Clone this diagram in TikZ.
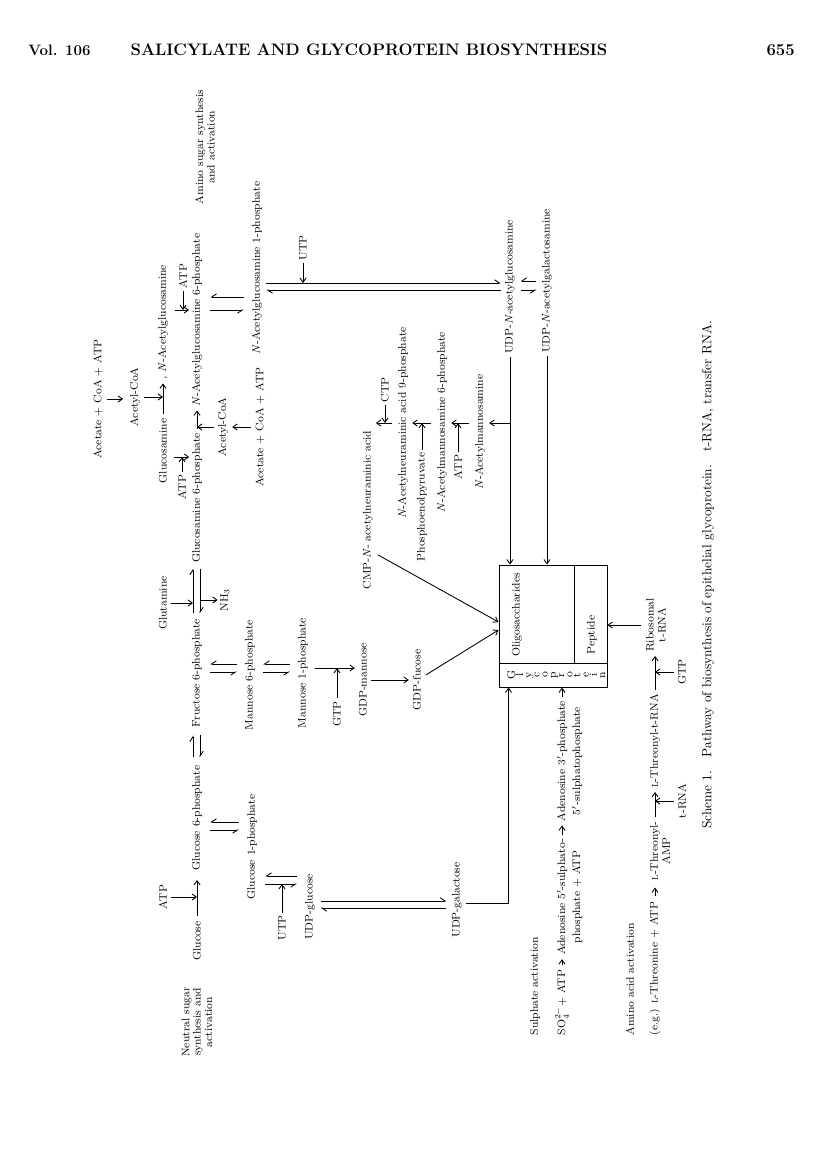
\documentclass[tikz,border=0pt]{standalone}
\usetikzlibrary{arrows.meta,calc}
\newcommand\fs{\fontsize{8.2}{9}\selectfont}
\tikzset{
  lbl/.style={rotate=90, inner sep=1pt, font=\fs, align=center},
  rx/.style={-{Straight Barb[length=3.2pt,width=4.6pt]}, line width=0.65pt},
  eqr/.style={-{Straight Barb[right,length=3.6pt,width=4.8pt]}, line width=0.65pt},
  eql/.style={-{Straight Barb[left,length=3.6pt,width=4.8pt]}, line width=0.65pt},
  hdr/.style={inner sep=0pt, font=\fontsize{11.3}{13}\selectfont\bfseries},
}
\begin{document}
\begin{tikzpicture}[x=0.75pt,y=-0.75pt]
\useasboundingbox (0,0) rectangle (816,1155);
\fill[white] (0,0) rectangle (816,1155);
% header
\node[hdr, anchor=west] (vol) at (28,50) {Vol. 106};
\node[hdr, font=\fontsize{12.5}{14}\selectfont\bfseries] (title) at (369,50) {SALICYLATE AND GLYCOPROTEIN BIOSYNTHESIS};
\node[hdr, anchor=east, font=\fontsize{12.5}{14}\selectfont\bfseries] (pg) at (795,50) {655};
% amino sugar
\node[lbl] (acA1) at (98,399) {Acetate + CoA + ATP};
\node[lbl] (acCoA1) at (135,397) {Acetyl-CoA};
\node[lbl] (glcN) at (163,451) {Glucosamine};
\node[lbl] (nag) at (163,322) {,\ \textit{N}-Acetylglucosamine};
\node[lbl] (atpNAG) at (183,276) {ATP};
\node[lbl] (atpGN) at (182,487) {ATP};
\node[lbl] (nag6p) at (197,320) {\textit{N}-Acetylglucosamine 6-phosphate};
\node[lbl] (glcN6p) at (197,498) {Glucosamine 6-phosphate};
\node[lbl] (f6p) at (197,673) {Fructose 6-phosphate};
\node[lbl] (g6p) at (197,818) {Glucose 6-phosphate};
\node[lbl] (glc) at (197,941) {Glucose};
\node[lbl, font=\fontsize{8.2}{8.5}\selectfont] (aslab) at (205,147) {Amino sugar synthesis\\and activation};
\node[lbl, font=\fontsize{8.2}{8.5}\selectfont] (nslab) at (197,1022) {Neutral sugar\\synthesis and\\activation};
\node[lbl] (glutamine) at (163,603) {Glutamine};
\node[lbl] (atpG1) at (163,897) {ATP};
\node[lbl] (acCoA2) at (223,427) {Acetyl-CoA};
\node[lbl] (nh3) at (225,600) {NH$_3$};
\node[lbl] (m6p) at (250,675) {Mannose 6-phosphate};
\node[lbl] (g1p) at (252,847) {Glucose 1-phosphate};
\node[lbl] (nag1p) at (257,268) {\textit{N}-Acetylglucosamine 1-phosphate};
\node[lbl] (acA2) at (260,427) {Acetate + CoA + ATP};
\node[lbl] (utp1) at (282,928) {UTP};
\node[lbl] (m1p) at (303,673) {Mannose 1-phosphate};
\node[lbl] (utp2) at (303,248) {UTP};
\node[lbl] (udpglc) at (310,907) {UDP-glucose};
\node[lbl] (gtp1) at (337,714) {GTP};
\node[lbl] (gdpman) at (363,680) {GDP-mannose};
\node[lbl] (cmp) at (368,510) {CMP-\textit{N}- acetylneuraminic acid};
\node[lbl] (ctp) at (385,390) {CTP};
\node[lbl] (nana9p) at (403,423) {\textit{N}-Acetylneuraminic acid 9-phosphate};
\node[lbl] (gdpfuc) at (417,680) {GDP-fucose};
\node[lbl] (pep) at (422,507) {Phosphoenolpyruvate};
\node[lbl] (nam6p) at (442,422) {\textit{N}-Acetylmannosamine 6-phosphate};
\node[lbl] (udpgal) at (457,900) {UDP-galactose};
\node[lbl] (atp3) at (458,467) {ATP};
\node[lbl] (nam) at (480,432) {\textit{N}-Acetylmannosamine};
\node[lbl] (udpglcnac) at (510,287) {UDP-\textit{N}-acetylglucosamine};
\node[lbl] (udpgalnac) at (547,281) {UDP-\textit{N}-acetylgalactosamine};
% box
\node[draw, line width=0.75pt, minimum width=81pt, minimum height=91.5pt, inner sep=0pt] (box) at (553,626) {};
\draw[line width=0.7pt] (box.west |- 0,663) -- (box.east |- 0,663);
\draw[line width=0.7pt] (box.north -| 574,0) -- (574,663);
\node[lbl] (oligo) at (517,615) {Oligosaccharides};
\node[lbl] (pept) at (592,635) {Peptide};
\foreach \ch [count=\i from 0] in {G,l,y,c,o,p,r,o,t,e,i,n}
  \node[lbl, anchor=mid] (gp\i) at ({512+8.2*\i},675) {\ch};
% sulphate and amino acid
\node[lbl, anchor=west] (sulph) at (535,1037) {Sulphate activation};
\node[lbl, anchor=west] (so4) at (562,1037) {SO$_4^{2-}$+ ATP};
\node[lbl, font=\fontsize{8.2}{11.2}\selectfont] (aps) at (569.5,897) {Adenosine $5'$-sulphato-\\phosphate + ATP};
\node[lbl, font=\fontsize{8.2}{11.2}\selectfont] (paps) at (569.5,761) {Adenosine $3'$-phosphate\\$5'$-sulphatophosphate};
\node[lbl, anchor=west] (amino) at (630,1037) {Amino acid activation};
\node[lbl, anchor=west] (thr) at (655,1037) {(e.g.) \textsc{l}-Threonine + ATP};
\node[lbl] (thramp) at (660,851) {\textsc{l}-Threonyl-\\AMP};
\node[lbl] (thrtrna) at (655,741) {\textsc{l}-Threonyl-t-RNA};
\node[lbl] (trna) at (682,801) {t-RNA};
\node[lbl] (gtp2) at (682,672) {GTP};
\node[lbl] (ribo) at (656,625) {Ribosomal\\t-RNA};
\node[rotate=90, inner sep=0pt, font=\fontsize{10}{12}\selectfont] (cap) at (708,575) {Scheme 1.\quad Pathway of biosynthesis of epithelial glycoprotein.\quad t-RNA, transfer RNA.};
\coordinate (boxin) at ($(box.south west)+(10,0)$);
% connectors amino sugar
\draw[rx, shorten <=2pt, shorten >=4pt] (acA1.south) -- (acA1.south -| acCoA1.north);
\draw[rx, shorten <=2pt] (acCoA1.south) -- (acCoA1.south -| glcN.center);
\draw[rx, shorten <=2pt, shorten >=2pt] (glcN.east) -- (nag.west);
\draw[rx, shorten <=4pt, shorten >=1pt] (nag.south |- 0,310) -- (nag6p.north |- 0,310);
\draw[rx, shorten <=1pt] (atpNAG.west) -- (atpNAG.west |- 0,310);
\draw[rx, shorten <=4pt, shorten >=1pt] (glcN.south |- 0,457) -- (glcN6p.north |- 0,457);
\draw[rx, shorten <=1pt] (atpGN.east) -- (atpGN.east |- 0,457);
\draw[rx, shorten <=2pt, shorten >=2pt] (glcN6p.east) -- (nag6p.west);
\draw[rx, shorten <=2pt] (acCoA2.north) -- (acCoA2.north -| nag6p.center);
\draw[rx, shorten <=2pt, shorten >=2pt] (acA2.north) -- (acA2.north -| acCoA2.south);
\draw[eqr, shorten <=5pt, shorten >=5pt] (nag1p.north |- 0,297) -- (nag6p.south |- 0,297);
\draw[eqr, shorten <=5pt, shorten >=5pt] (nag6p.south |- 0,310) -- (nag1p.north |- 0,310);
\draw[eql, shorten <=2pt, shorten >=2pt] (nag1p.south |- 0,283) -- (udpglcnac.north |- 0,283);
\draw[eql, shorten <=2pt, shorten >=2pt] (udpglcnac.north |- 0,290) -- (nag1p.south |- 0,290);
\draw[rx, shorten <=1pt] (utp2.west) -- (utp2.west |- 0,283);
\draw[eqr, shorten <=3pt, shorten >=3pt] (udpgalnac.north |- 0,281) -- (udpglcnac.south |- 0,281);
\draw[eqr, shorten <=3pt, shorten >=3pt] (udpglcnac.south |- 0,290) -- (udpgalnac.north |- 0,290);
\draw[rx, shorten <=1pt] (udpglcnac.west) -- (udpglcnac.west |- box.north);
\draw[rx, shorten <=1pt] (udpgalnac.west) -- (udpgalnac.west |- box.north);
\draw[rx, shorten >=2pt] (udpglcnac.west |- 0,423) -- (nam.south |- 0,423);
% sialic acid
\draw[rx, shorten <=3pt, shorten >=2pt] (nam.north |- 0,423) -- (nam6p.south |- 0,423);
\draw[rx, shorten <=1pt] (atp3.east) -- (atp3.east |- 0,423);
\draw[rx, shorten <=3pt, shorten >=2pt] (nam6p.north |- 0,423) -- (nana9p.south |- 0,423);
\draw[rx, shorten <=1pt] (pep.east) -- (pep.east |- 0,423);
\draw[rx, shorten <=3pt, shorten >=1pt] (nana9p.north |- 0,423) -- (cmp.south |- 0,423);
\draw[rx, shorten <=1pt] (ctp.west) -- (ctp.west |- 0,423);
\draw[rx, shorten <=3pt] (cmp.south |- 0,553) -- (box.west |- 0,622);
\draw[rx, shorten <=2pt, shorten >=2pt] (gdpman.south) -- (gdpfuc.north);
\draw[rx, shorten <=3pt] (gdpfuc.south |- 0,677) -- (box.west |- 0,630);
% neutral sugar
\draw[rx, shorten <=3pt, shorten >=6pt] (glc.east) -- (g6p.west);
\draw[rx, shorten <=2pt] (atpG1.south) -- (atpG1.south -| glc.center);
\draw[eqr, shorten <=5pt, shorten >=5pt] (g1p.north |- 0,822) -- (g6p.south |- 0,822);
\draw[eqr, shorten <=5pt, shorten >=5pt] (g6p.south |- 0,830) -- (g1p.north |- 0,830);
\draw[eql, shorten <=5pt, shorten >=5pt] (g6p.east -| 193,0) -- (f6p.west -| 193,0);
\draw[eql, shorten <=5pt, shorten >=5pt] (f6p.west -| 200,0) -- (g6p.east -| 200,0);
\draw[eql, shorten <=3pt, shorten >=3pt] (f6p.east -| 193,0) -- (glcN6p.west -| 193,0);
\draw[eql, shorten <=3pt, shorten >=3pt] (glcN6p.west -| 200,0) -- (f6p.east -| 200,0);
\draw[rx, shorten <=2pt] (glutamine.south) -- (glutamine.south -| 193,0);
\draw[rx, shorten >=1pt] (nh3.north -| 200,0) -- (nh3.north);
\draw[eqr, shorten <=5pt, shorten >=5pt] (m6p.north |- 0,664) -- (f6p.south |- 0,664);
\draw[eqr, shorten <=5pt, shorten >=5pt] (f6p.south |- 0,672) -- (m6p.north |- 0,672);
\draw[eqr, shorten <=5pt, shorten >=5pt] (m1p.north |- 0,664) -- (m6p.south |- 0,664);
\draw[eqr, shorten <=5pt, shorten >=5pt] (m6p.south |- 0,672) -- (m1p.north |- 0,672);
\draw[rx, shorten <=4pt, shorten >=2pt] (m1p.south |- 0,668) -- (gdpman.north |- 0,668);
\draw[rx, shorten <=1pt] (gtp1.east) -- (gtp1.east |- 0,668);
\draw[eqr, shorten <=5pt, shorten >=5pt] (udpglc.north |- 0,876) -- (g1p.south |- 0,876);
\draw[eqr, shorten <=5pt, shorten >=5pt] (g1p.south |- 0,884) -- (udpglc.north |- 0,884);
\draw[rx, shorten <=1pt] (utp1.east) -- (utp1.east |- 0,884);
\draw[eql, shorten <=3pt, shorten >=3pt] (udpglc.south |- 0,901) -- (udpgal.north |- 0,901);
\draw[eql, shorten <=3pt, shorten >=3pt] (udpgal.north |- 0,908) -- (udpglc.south |- 0,908);
\draw[rx, shorten <=2pt] (udpgal.south |- 0,903) -| (boxin);
% sulphate
\draw[rx, shorten <=2pt, shorten >=2pt] (so4.east) -- (so4.east |- aps.west);
\draw[rx, shorten <=2pt, shorten >=2pt] (aps.east -| so4.center) -- (paps.west -| so4.center);
\draw[rx, shorten <=2pt] (paps.east -| so4.center) -- (box.south -| so4.center);
% amino acid
\draw[rx, shorten <=3pt, shorten >=4pt] (thr.east) -- (thr.east |- thramp.west);
\draw[rx, shorten <=2pt, shorten >=2pt] (thramp.east -| thr.east) -- (thr.east |- thrtrna.west);
\draw[rx, shorten <=2pt] (trna.north) -- (trna.north -| thr.east);
\draw[rx, shorten <=2pt, shorten >=2pt] (thrtrna.east) -- (thrtrna.east |- ribo.west);
\draw[rx, shorten <=2pt] (gtp2.north) -- (gtp2.north -| thr.east);
\draw[rx, shorten <=3pt] (ribo.north) -- (ribo.north -| box.east);
\end{tikzpicture}
\end{document}
